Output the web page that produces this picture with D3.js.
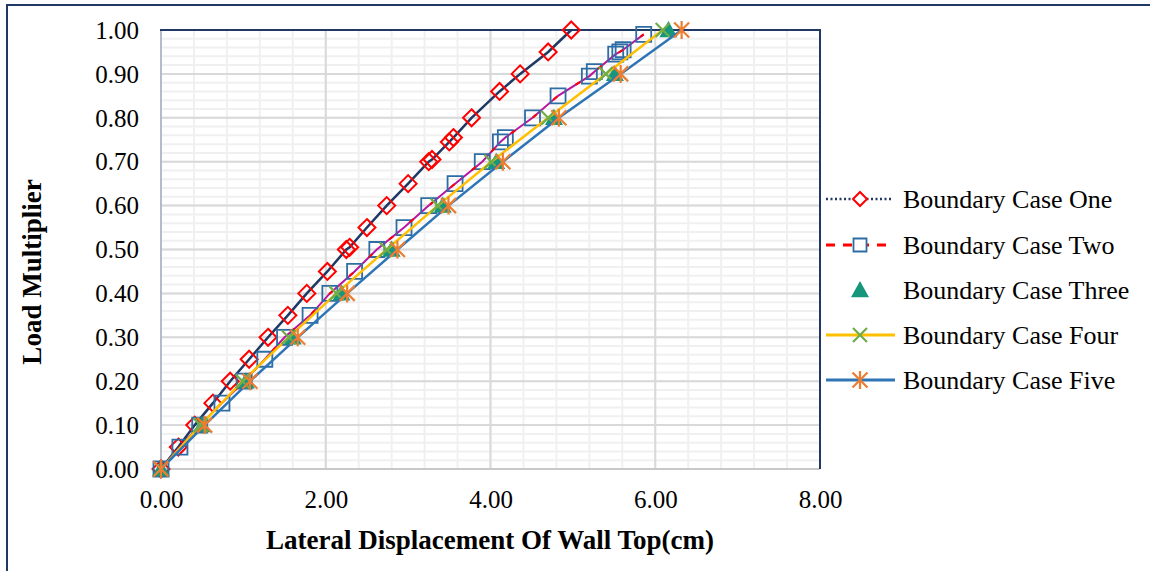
<!DOCTYPE html>
<html>
<head>
<meta charset="utf-8">
<script src="https://cdn.jsdelivr.net/npm/d3@7"></script>
<style>
  body { margin: 0; background: #fff; }
  text { font-family: "Liberation Serif", "Times New Roman", serif; fill: #000; }
</style>
</head>
<body>
<script>
// data (displacement cm, load multiplier)
const caseOneX = [0, 0.21, 0.41, 0.63, 0.84, 1.07, 1.30, 1.54, 1.77, 2.02, 2.25, 2.29, 2.50, 2.74, 3.00, 3.25, 3.29, 3.50, 3.55, 3.77, 4.11, 4.36, 4.70, 4.98]
const caseOneY = [0, 0.05, 0.10, 0.15, 0.20, 0.25, 0.30, 0.35, 0.40, 0.45, 0.50, 0.505, 0.55, 0.60, 0.65, 0.70, 0.705, 0.745, 0.755, 0.80, 0.86, 0.90, 0.95, 1.00]

const caseTwoX = [0, 0.23, 0.47, 0.74, 1.01, 1.26, 1.50, 1.81, 2.05, 2.35, 2.62, 2.95, 3.25, 3.57, 3.90, 4.12, 4.18, 4.51, 4.82, 5.20, 5.26, 5.52, 5.57, 5.61, 5.86]
const caseTwoY = [0, 0.05, 0.10, 0.15, 0.20, 0.25, 0.30, 0.35, 0.40, 0.45, 0.50, 0.55, 0.60, 0.65, 0.70, 0.745, 0.755, 0.80, 0.85, 0.895, 0.905, 0.945, 0.95, 0.955, 0.99]

const caseThreeX = [0, 0.50, 1.03, 1.60, 2.19, 2.80, 3.42, 4.07, 4.77, 5.51, 6.16]
const caseThreeY = [0, 0.10, 0.20, 0.30, 0.40, 0.50, 0.60, 0.70, 0.80, 0.90, 1.00]

const caseFourX = [0, 0.48, 0.99, 1.55, 2.13, 2.74, 3.36, 4.01, 4.70, 5.40, 6.09]
const caseFourY = [0, 0.10, 0.20, 0.30, 0.40, 0.50, 0.60, 0.70, 0.80, 0.90, 1.00]

const caseFiveX = [0, 0.53, 1.08, 1.66, 2.26, 2.87, 3.49, 4.15, 4.83, 5.58, 6.32]
const caseFiveY = [0, 0.10, 0.20, 0.30, 0.40, 0.50, 0.60, 0.70, 0.80, 0.90, 1.00]

const seriesNames = ['Boundary Case One', 'Boundary Case Two', 'Boundary Case Three', 'Boundary Case Four', 'Boundary Case Five']
const xTicks = [0, 2, 4, 6, 8]
const yTicks = [0, 0.1, 0.2, 0.3, 0.4, 0.5, 0.6, 0.7, 0.8, 0.9, 1.0]

const W = 1150, H = 571
const PLOT = { left: 161, right: 820, top: 30, bottom: 469 }

let svg = d3.select('body').append('svg')
  .attr('width', W).attr('height', H)

// outer chart frame
svg.append('rect')
  .attr('x', 7).attr('y', 5)
  .attr('width', W + 20).attr('height', H + 20)
  .attr('fill', '#fff').attr('stroke', '#1f3864').attr('stroke-width', 2)

let x = d3.scaleLinear().domain([0, 8]).range([PLOT.left, PLOT.right])
let y = d3.scaleLinear().domain([0, 1]).range([PLOT.bottom, PLOT.top])

let grid = svg.append('g')
// minor grid
grid.selectAll('.vminor').data(d3.range(0, 8.01, 0.4))
  .join('line')
    .attr('x1', (d) => x(d)).attr('x2', (d) => x(d))
    .attr('y1', PLOT.top).attr('y2', PLOT.bottom)
    .attr('stroke', '#f0f0f0').attr('stroke-width', 2)
grid.selectAll('.hminor').data(d3.range(0, 50).map((i) => i * 0.02))
  .join('line')
    .attr('x1', PLOT.left).attr('x2', PLOT.right)
    .attr('y1', (d) => y(d)).attr('y2', (d) => y(d))
    .attr('stroke', '#f0f0f0').attr('stroke-width', 2)
// major grid
grid.append('g').selectAll('line').data(xTicks)
  .join('line')
    .attr('x1', (d) => x(d)).attr('x2', (d) => x(d))
    .attr('y1', PLOT.top).attr('y2', PLOT.bottom)
    .attr('stroke', '#d9d9d9').attr('stroke-width', 2)
grid.append('g').selectAll('line').data(yTicks)
  .join('line')
    .attr('x1', PLOT.left).attr('x2', PLOT.right)
    .attr('y1', (d) => y(d)).attr('y2', (d) => y(d))
    .attr('stroke', '#d9d9d9').attr('stroke-width', 2)

// plot borders
svg.append('line').attr('x1', PLOT.left).attr('x2', PLOT.left).attr('y1', PLOT.top).attr('y2', PLOT.bottom)
  .attr('stroke', '#b4bccb').attr('stroke-width', 2)
svg.append('line').attr('x1', PLOT.left).attr('x2', PLOT.right).attr('y1', PLOT.bottom).attr('y2', PLOT.bottom)
  .attr('stroke', '#c8c8c8').attr('stroke-width', 2)
svg.append('line').attr('x1', PLOT.left - 1).attr('x2', PLOT.right + 1).attr('y1', PLOT.top).attr('y2', PLOT.top)
  .attr('stroke', '#1f3864').attr('stroke-width', 2)
svg.append('line').attr('x1', PLOT.right).attr('x2', PLOT.right).attr('y1', PLOT.top).attr('y2', PLOT.bottom)
  .attr('stroke', '#1f3864').attr('stroke-width', 2)

// axes (labels only, Excel-like)
let xAxis = svg.append('g')
  .attr('transform', 'translate(0,' + PLOT.bottom + ')')
  .call(d3.axisBottom(x).tickValues(xTicks).tickFormat(d3.format('.2f')).tickSize(0).tickPadding(21))
let yAxis = svg.append('g')
  .attr('transform', 'translate(' + PLOT.left + ',0)')
  .call(d3.axisLeft(y).tickValues(yTicks).tickFormat(d3.format('.2f')).tickSize(0).tickPadding(22))
;[xAxis, yAxis].forEach((a) => {
  a.select('.domain').remove()
  a.selectAll('text').style('font-family', '"Liberation Serif", serif').style('font-size', '25px').attr('fill', '#000')
})
yAxis.selectAll('text').attr('dy', '0.33em')

svg.append('text')
  .attr('x', 490).attr('y', 549)
  .attr('text-anchor', 'middle')
  .style('font-size', '27px').style('font-weight', 'bold')
  .text('Lateral Displacement Of Wall Top(cm)')
svg.append('text')
  .attr('transform', 'translate(41,272) rotate(-90)')
  .attr('text-anchor', 'middle')
  .style('font-size', '27px').style('font-weight', 'bold')
  .text('Load Multiplier')

// marker shapes
const sym = {
  diamond: (s) => 'M0,' + (-s) + 'L' + s + ',0L0,' + s + 'L' + (-s) + ',0Z',
  square: (s) => 'M' + (-s) + ',' + (-s) + 'h' + 2 * s + 'v' + 2 * s + 'h' + (-2 * s) + 'Z',
  triangle: (s) => 'M0,' + (-s) + 'L' + s + ',' + (s * 0.8) + 'L' + (-s) + ',' + (s * 0.8) + 'Z',
  cross: (s) => 'M' + (-s) + ',' + (-s) + 'L' + s + ',' + s + 'M' + (-s) + ',' + s + 'L' + s + ',' + (-s),
  star: (s) => 'M' + (-s) + ',' + (-s) + 'L' + s + ',' + s + 'M' + (-s) + ',' + s + 'L' + s + ',' + (-s) + 'M0,' + (-s * 1.2) + 'V' + (s * 1.2)
}

const series = [
  { xs: caseOneX, ys: caseOneY, line: '#1f3864', lw: 2.5, dash: null, shape: 'diamond', size: 8.5, stroke: '#ff0000', fill: 'none', mw: 2 },
  { xs: caseTwoX, ys: caseTwoY, line: '#b5179e', lw: 2, dash: null, shape: 'square', size: 7.5, stroke: '#2e6da4', fill: 'none', mw: 1.8, overDash: '#ff0000' },
  { xs: caseThreeX, ys: caseThreeY, line: null, shape: 'triangle', size: 9, stroke: 'none', fill: '#16967a', mw: 0 },
  { xs: caseFourX, ys: caseFourY, line: '#ffc000', lw: 2.5, dash: null, shape: 'cross', size: 7, stroke: '#70ad47', fill: 'none', mw: 2.2 },
  { xs: caseFiveX, ys: caseFiveY, line: '#2e75b6', lw: 2.5, dash: null, shape: 'star', size: 7.5, stroke: '#ed7d31', fill: 'none', mw: 2.2 }
]

let lineGen = d3.line().x((d) => x(d[0])).y((d) => y(d[1]))
let marks = svg.append('g')

series.forEach((s) => {
  let pts = s.xs.map((v, i) => [v, s.ys[i]])
  let g = marks.append('g')
  if (s.line) {
    g.append('path')
      .attr('d', lineGen(pts))
      .attr('fill', 'none').attr('stroke', s.line).attr('stroke-width', s.lw)
      .attr('stroke-dasharray', s.dash)
  }
  g.selectAll('path.m').data(pts)
    .join('path')
      .attr('class', 'm')
      .attr('transform', (d) => 'translate(' + x(d[0]) + ',' + y(d[1]) + ')')
      .attr('d', sym[s.shape](s.size))
      .attr('fill', s.fill).attr('stroke', s.stroke).attr('stroke-width', s.mw)
  if (s.overDash) {
    g.append('path')
      .attr('d', lineGen(pts))
      .attr('fill', 'none').attr('stroke', s.overDash).attr('stroke-width', 2)
      .attr('stroke-dasharray', '5,22')
  }
})

// legend
const legendY = [199, 245, 290, 335, 380]
let legend = svg.append('g')
series.forEach((s, i) => {
  let g = legend.append('g').attr('transform', 'translate(0,' + legendY[i] + ')')
  if (i === 0) {
    g.append('line').attr('x1', 826).attr('x2', 892)
      .attr('stroke', '#1f3864').attr('stroke-width', 2.5).attr('stroke-dasharray', '2,2.5')
  } else if (i === 1) {
    g.append('line').attr('x1', 826).attr('x2', 892)
      .attr('stroke', '#ff0000').attr('stroke-width', 3).attr('stroke-dasharray', '9,8')
  } else if (s.line) {
    g.append('line').attr('x1', 826).attr('x2', 895)
      .attr('stroke', s.line).attr('stroke-width', 3)
  }
  g.append('path')
    .attr('transform', 'translate(860,0)')
    .attr('d', sym[s.shape](i === 0 ? 7 : i === 1 ? 6.5 : s.size))
    .attr('fill', s.fill === 'none' ? (i < 2 ? '#fff' : 'none') : s.fill)
    .attr('stroke', s.stroke).attr('stroke-width', s.mw)
  g.append('text')
    .attr('x', 903).attr('dy', '0.33em')
    .style('font-size', '26px')
    .text(seriesNames[i])
})
</script>
</body>
</html>
